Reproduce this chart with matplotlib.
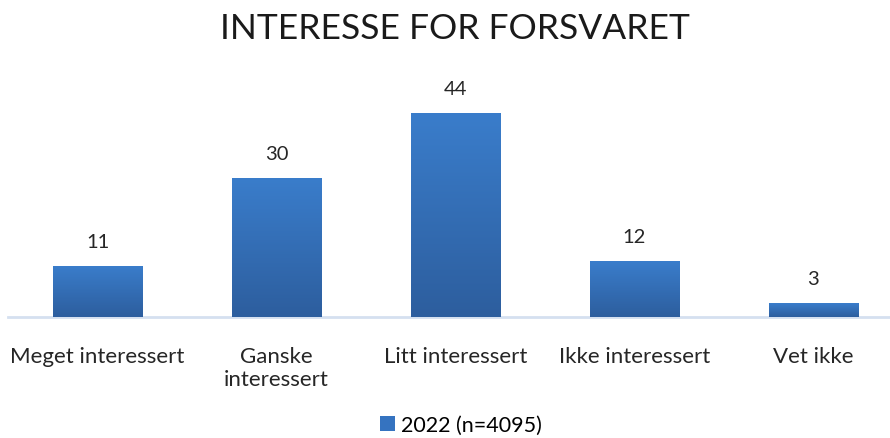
import matplotlib.pyplot as plt
import numpy as np
from matplotlib.colors import LinearSegmentedColormap

# Data
categories = ['Meget interessert', 'Ganske\ninteressert', 'Litt interessert',
              'Ikke interessert', 'Vet ikke']
values = [11, 30, 44, 12, 3]
series_label = '2022 (n=4095)'
title = 'INTERESSE FOR FORSVARET'

plt.rcParams['font.family'] = ['Lato', 'DejaVu Sans']

fig = plt.figure(figsize=(8.9, 4.39), dpi=100)
ax = fig.add_axes([8 / 890, 121 / 439, 895 / 890, 232 / 439])

x = np.arange(len(categories))
bars = ax.bar(x, values, width=0.5, color='#3573C0', label=series_label, zorder=2)

# gradient fill: lighter top, darker bottom
grad = LinearSegmentedColormap.from_list('g', ['#2D5E9E', '#3A7DCB'])
for b in bars:
    bx, by = b.get_x(), b.get_y()
    w, h = b.get_width(), b.get_height()
    img = np.linspace(0, 1, 100).reshape(-1, 1)
    im = ax.imshow(img, cmap=grad, origin='lower', aspect='auto',
                   extent=[bx, bx + w, by, by + h], zorder=3)
    im.set_clip_path(b)
    ax.text(bx + w / 2, by + h + 3.5, str(int(h)), ha='center', va='bottom',
            fontsize=14.5, color='#262626')

ax.set_xlim(-0.5, 4.5)
ax.set_ylim(0, 50)
ax.set_yticks([])
ax.set_xticks(x)
ax.set_xticklabels(categories, fontsize=16, color='#262626', linespacing=1.2)
ax.tick_params(axis='x', length=0, pad=21)
for s in ['top', 'right', 'left']:
    ax.spines[s].set_visible(False)
ax.spines['bottom'].set_color('#D5E0F0')
ax.spines['bottom'].set_linewidth(2)
ax.spines['bottom'].set_zorder(1)

fig.suptitle(title, fontsize=25.5, x=0.511, y=0.97, color='#1a1a1a')

fig.legend(handles=[bars], labels=[series_label], loc='lower center',
           bbox_to_anchor=(0.518, -0.038), frameon=False, fontsize=15.5,
           handlelength=0.7, handleheight=0.7, handletextpad=0.3)

fig.savefig('out.png', dpi=100)
